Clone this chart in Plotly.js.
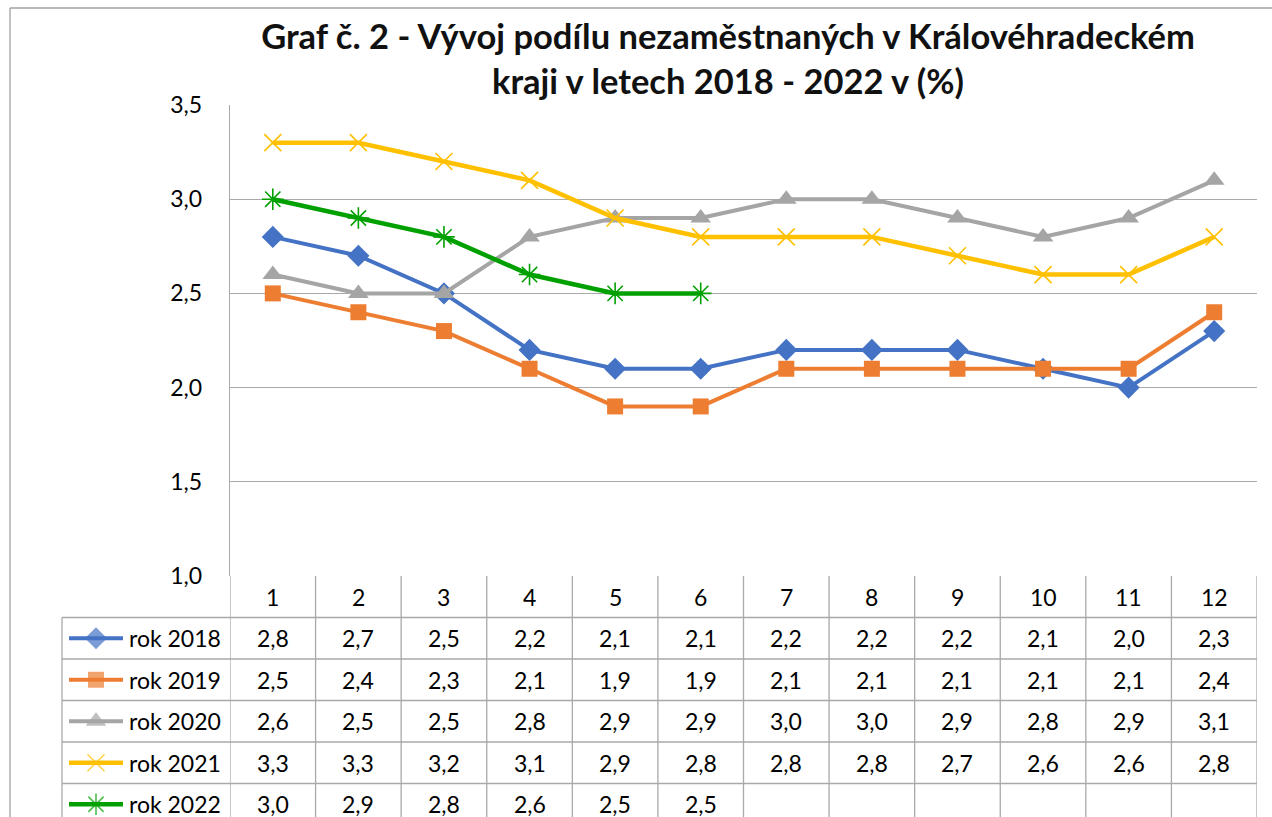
<!DOCTYPE html>
<html>
<head>
<meta charset="utf-8">
<script src="https://cdn.plot.ly/plotly-3.0.1.min.js"></script>
<style>html,body{margin:0;padding:0;background:#fff;}#chart{width:1272px;height:817px;}</style>
</head>
<body>
<div id="chart"></div>
<script>
// ---- data ----
const months = [1,2,3,4,5,6,7,8,9,10,11,12];
const seriesNames = ['rok 2018','rok 2019','rok 2020','rok 2021','rok 2022'];
const rok2018 = [2.8,2.7,2.5,2.2,2.1,2.1,2.2,2.2,2.2,2.1,2.0,2.3];
const rok2019 = [2.5,2.4,2.3,2.1,1.9,1.9,2.1,2.1,2.1,2.1,2.1,2.4];
const rok2020 = [2.6,2.5,2.5,2.8,2.9,2.9,3.0,3.0,2.9,2.8,2.9,3.1];
const rok2021 = [3.3,3.3,3.2,3.1,2.9,2.8,2.8,2.8,2.7,2.6,2.6,2.8];
const rok2022 = [3.0,2.9,2.8,2.6,2.5,2.5];
const yTicks = [1.0,1.5,2.0,2.5,3.0,3.5];
const titleText = 'Graf č. 2 - Vývoj podílu nezaměstnaných v Královéhradeckém<br>kraji v letech 2018 - 2022 v (%)';

// ---- styles / layout constants ----
const W = 1272, H = 817;
const plotL = 230, plotR = 1257, plotT = 105, plotB = 576;
const rowH = 41.5;
const legL = 62;
const FONT = 'Lato, "Open Sans", sans-serif';
const gridCol = '#A9A9A9';
const styles = [
  {color:'#4472C4', symbol:'diamond', size:17, mlw:0, lw:4},
  {color:'#ED7D31', symbol:'square', size:16, mlw:0, lw:4},
  {color:'#A5A5A5', symbol:'triangle-up', size:18, mlw:0, lw:4},
  {color:'#FFC000', symbol:'x-thin-open', size:17, mlw:1.6, lw:4.5},
  {color:'#00A000', symbol:'asterisk-open', size:18, mlw:1.6, lw:4.5}
];
const allSeries = [rok2018, rok2019, rok2020, rok2021, rok2022];

const fmt = v => v.toFixed(1).replace('.', ',');

const traces = [];
allSeries.forEach((vals, i) => {
  const s = styles[i];
  traces.push({
    type:'scatter', mode:'lines+markers', name: seriesNames[i],
    x: months.slice(0, vals.length), y: vals,
    xaxis:'x', yaxis:'y', showlegend:false, cliponaxis:false,
    line:{color:s.color, width:s.lw},
    marker:{symbol:s.symbol, size:s.size, color:s.color, line:{color:s.color, width:s.mlw}}
  });
});

// legend keys inside the data table (pixel axes x2/y2)
const rowCenter = r => plotB + rowH * (r + 0.5);  // r=0 header
allSeries.forEach((vals, i) => {
  const s = styles[i];
  const yc = rowCenter(i + 1);
  traces.push({
    type:'scatter', mode:'lines+markers', xaxis:'x2', yaxis:'y2', showlegend:false,
    hoverinfo:'skip', cliponaxis:false,
    x:[69, 96, 123], y:[yc, yc, yc],
    line:{color:s.color, width:s.lw},
    marker:{symbol:s.symbol, size:[0, s.size, 0], color:s.color, line:{color:s.color, width:s.mlw}}
  });
});

const shapes = [];
const annotations = [];
const lineStyle = {color:gridCol, width:1.3};
// outer chart border (top & left visible)
shapes.push({type:'line', xref:'x2', yref:'y2', x0:10, x1:W+5, y0:8, y1:8, line:{color:'#A0A0A0', width:1.3}});
shapes.push({type:'line', xref:'x2', yref:'y2', x0:10, x1:10, y0:8, y1:H+5, line:{color:'#A0A0A0', width:1.3}});
// table horizontal lines
for (let r = 1; r <= 6; r++) {
  const y = plotB + rowH * r;
  shapes.push({type:'line', xref:'x2', yref:'y2', x0:legL, x1:plotR, y0:y, y1:y, line:lineStyle});
}
// table verticals
shapes.push({type:'line', xref:'x2', yref:'y2', x0:legL, x1:legL, y0:plotB + rowH, y1:H + 5, line:lineStyle});
for (let k = 0; k <= months.length; k++) {
  shapes.push({type:'line', xref:'x', yref:'y2', x0:k + 0.5, x1:k + 0.5, y0:plotB, y1:H + 5, line:lineStyle});
}
// header row labels
months.forEach(m => annotations.push({xref:'x', yref:'y2', x:m, y:rowCenter(0), text:String(m),
  showarrow:false, font:{family:FONT, size:23, color:'#000'}, xanchor:'center', yanchor:'middle'}));
// table values and names
allSeries.forEach((vals, i) => {
  annotations.push({xref:'x2', yref:'y2', x:127, y:rowCenter(i + 1), text:seriesNames[i], showarrow:false,
    font:{family:FONT, size:23, color:'#000'}, xanchor:'left', yanchor:'middle'});
  vals.forEach((v, j) => annotations.push({xref:'x', yref:'y2', x:months[j], y:rowCenter(i + 1), text:fmt(v),
    showarrow:false, font:{family:FONT, size:23, color:'#000'}, xanchor:'center', yanchor:'middle'}));
});

const layout = {
  width: W, height: H,
  margin:{l:0, r:0, t:0, b:0, pad:0},
  paper_bgcolor:'#fff', plot_bgcolor:'rgba(0,0,0,0)',
  separators:', ',
  showlegend:false,
  title:{text:titleText, x:728/W, xanchor:'center', xref:'paper', y:1 - 49/H, yanchor:'middle', yref:'paper',
    font:{family:FONT, size:34.5, color:'#111', weight:'bold'}},
  xaxis:{domain:[plotL / W, plotR / W], range:[0.5, 12.5], showgrid:false, zeroline:false,
    showticklabels:false, ticks:'', showline:false, fixedrange:true},
  yaxis:{domain:[(H - plotB) / H, (H - plotT) / H], range:[1, 3.5], tickvals:yTicks, tickformat:'.1f',
    showgrid:true, gridcolor:gridCol, gridwidth:1.3, zeroline:false, showline:true, linecolor:gridCol, linewidth:1.3,
    ticks:'', ticklabelstandoff:22, tickfont:{family:FONT, size:23, color:'#000'}, fixedrange:true},
  xaxis2:{domain:[0,1], range:[0, W], anchor:'y2', visible:false, fixedrange:true},
  yaxis2:{domain:[0,1], range:[H, 0], anchor:'x2', visible:false, fixedrange:true},
  shapes: shapes,
  annotations: annotations
};

Plotly.newPlot('chart', traces, layout, {staticPlot:true, displayModeBar:false});
</script>
</body>
</html>
